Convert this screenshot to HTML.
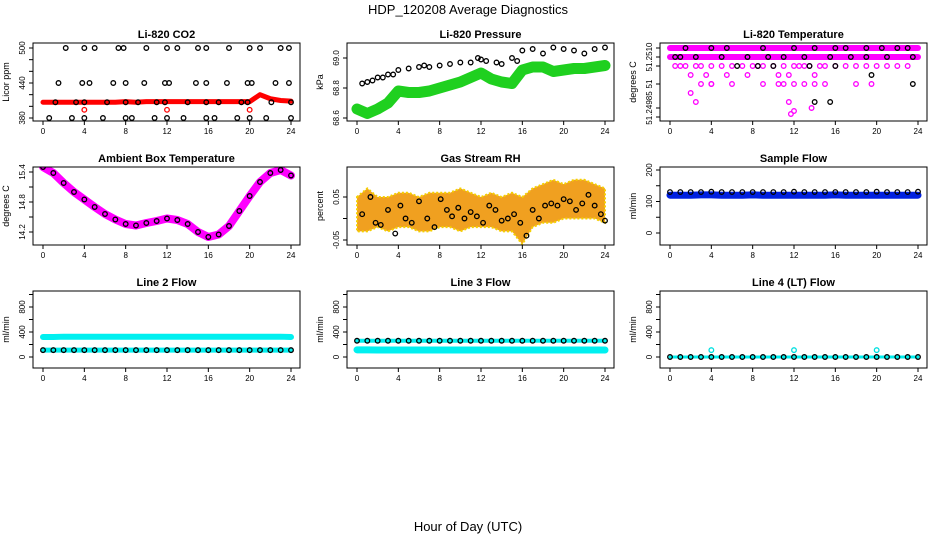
<!DOCTYPE html>
<html><head><meta charset="utf-8"><style>
body{margin:0;background:#fff}
svg{display:block;font-family:"Liberation Sans",sans-serif}
</style></head><body>
<svg id="c" width="936" height="540" viewBox="0 0 936 540">
<rect width="936" height="540" fill="#fff"/>
<text x="468" y="14" font-size="13" text-anchor="middle">HDP_120208  Average Diagnostics</text>
<text x="468" y="531" font-size="13" text-anchor="middle">Hour of Day (UTC)</text>
</svg>
<script>
// ---- data ----
const hours = [0,1,2,3,4,5,6,7,8,9,10,11,12,13,14,15,16,17,18,19,20,21,22,23,24];
const xTicks = [0,4,8,12,16,20,24];
// CO2
const co2Band = [407,407,407,407,407,407,407,407,408,407,408,408,408,408,408,408,408,408,408,408,408,420,413,410,409];
const co2Hi500 = [2.2,4,5,7.3,7.8,10,12,13,15,15.8,18,20,21,23,23.8];
const co2Hi440 = [1.5,3.8,4.5,6.8,8,9.8,11.8,12.2,14.8,15.8,17.8,19.8,20.2,22.5,23.8];
const co2Mid410 = [1.2,3.2,4,6.2,8,9.2,11,11.8,14,15.8,17,19.2,19.8,22.1,24];
const co2Lo380 = [0.6,2.8,4,5.8,8,8.6,10.8,12,13.6,15.8,16.6,18.8,20,21.6,24];
const co2Red = [4,12,20];
// Pressure
const presGreen = [68.66,68.63,68.66,68.70,68.78,68.77,68.77,68.78,68.80,68.82,68.84,68.87,68.90,68.86,68.84,68.83,68.92,68.94,68.94,68.91,68.92,68.93,68.93,68.94,68.95];
const presBlackH = [0.5,1,1.5,2,2.5,3,3.5,4,5,6,6.5,7,8,9,10,11,11.7,12,12.5,13.5,14,15,15.5,16,17,18,19,20,21,22,23,24];
const presBlackV = [68.83,68.84,68.85,68.87,68.87,68.89,68.89,68.92,68.93,68.94,68.95,68.94,68.95,68.96,68.97,68.97,69.0,68.99,68.98,68.97,68.96,69.0,68.98,69.05,69.06,69.03,69.07,69.06,69.05,69.03,69.06,69.07];
// Li-820 temperature (discrete levels)
const tempRowA = 51.25103, tempRowB = 51.2510;
const tempMagH = [0.5,1,1.5,2,2.5,3,3.5,4,5,5.5,6,7,7.5,8,8.5,9,10,10.5,11,11.5,12,12.5,13,13.5,14,14.5,15,16,17,18,19,20,21,22,23,3,4,6,9,10.5,11,12,13,14,15,2,2.5,11.5,12,11.7,13.7,4,18,19.5];
const tempMagV = [51.25097,51.25097,51.25097,51.25094,51.25097,51.25097,51.25094,51.25097,51.25097,51.25094,51.25097,51.25097,51.25094,51.25097,51.25097,51.25097,51.25097,51.25094,51.25097,51.25094,51.25097,51.25097,51.25097,51.25097,51.25094,51.25097,51.25097,51.25097,51.25097,51.25097,51.25097,51.25097,51.25097,51.25097,51.25097,51.25091,51.25091,51.25091,51.25091,51.25091,51.25091,51.25091,51.25091,51.25091,51.25091,51.25088,51.25085,51.25085,51.25082,51.25081,51.25083,51.25091,51.25091,51.25091];
const tempBlkH = [1.5,4,5.5,9,12,14,16,17,19,20.5,22,23,0.5,1,2.5,5,7.5,9.5,11,13,15.5,17.5,19,21,23.5,6.5,8.5,10,13.5,16,19.5,23.5,14,15.5];
const tempBlkV = [51.25103,51.25103,51.25103,51.25103,51.25103,51.25103,51.25103,51.25103,51.25103,51.25103,51.25103,51.25103,51.2510,51.2510,51.2510,51.2510,51.2510,51.2510,51.2510,51.2510,51.2510,51.2510,51.2510,51.2510,51.2510,51.25097,51.25097,51.25097,51.25097,51.25097,51.25094,51.25091,51.25085,51.25085];
// Ambient box temperature
const ambient = [15.5,15.38,15.18,15.0,14.85,14.7,14.56,14.45,14.36,14.33,14.38,14.42,14.47,14.44,14.36,14.2,14.1,14.15,14.32,14.62,14.92,15.2,15.38,15.44,15.33];
// Gas stream RH
const rhLow = [-0.03,-0.03,-0.02,-0.03,-0.02,-0.02,-0.03,-0.03,-0.02,-0.02,-0.03,-0.02,-0.02,-0.02,-0.03,-0.03,-0.06,-0.02,-0.01,-0.01,0.0,0.0,0.0,0.0,-0.01];
const rhHigh = [0.05,0.07,0.05,0.05,0.06,0.06,0.05,0.06,0.06,0.06,0.07,0.06,0.05,0.06,0.05,0.06,0.05,0.07,0.08,0.09,0.08,0.09,0.09,0.08,0.07];
const rhBlkH = [0.5,1.3,1.8,2.3,3,3.7,4.2,4.7,5.3,6,6.8,7.5,8.1,8.7,9.2,9.8,10.4,11,11.6,12.2,12.8,13.4,14,14.6,15.2,15.8,16.4,17,17.6,18.2,18.8,19.4,20,20.6,21.2,21.8,22.4,23,23.6,24];
const rhBlkV = [0.01,0.05,-0.01,-0.015,0.02,-0.035,0.03,0.0,-0.01,0.04,0.0,-0.02,0.045,0.02,0.005,0.025,0.0,0.015,0.005,-0.01,0.03,0.02,-0.005,0.0,0.01,-0.01,-0.04,0.02,0.0,0.03,0.035,0.03,0.045,0.04,0.02,0.035,0.055,0.03,0.01,-0.005];
// Sample flow
const sampleBlue = [120,120,120,121,121,120,120,120,121,120,120,120,120,120,120,120,121,120,120,120,120,120,120,120,120];
const sampleBlk = [130,130,130,130,131,130,130,130,130,130,130,130,131,130,130,130,130,130,130,130,131,130,130,130,131];
// Line flows
const line2Cyan = [320,320,325,325,325,325,325,325,325,325,325,325,325,325,325,325,325,325,325,325,325,325,325,325,320];
const line2Blk = [110,110,110,110,110,110,110,110,110,110,110,110,110,110,110,110,110,110,110,110,110,110,110,110,110];
const line3Blk = [260,260,260,260,260,260,260,260,260,260,260,260,260,260,260,260,260,260,260,260,260,260,260,260,260];
const line3Cyan = [115,115,112,112,112,112,112,112,112,112,112,112,112,112,112,112,112,112,112,112,112,112,112,112,112];
const line4Blk = [0,0,0,0,0,0,0,0,0,0,0,0,0,0,0,0,0,0,0,0,0,0,0,0,0];
const line4CyanH = [4,12,20];
const line4CyanV = [110,110,110];

// ---- drawing ----
const svg = document.getElementById('c');
const NS = 'http://www.w3.org/2000/svg';
function mk(tag, attrs, parent){const e=document.createElementNS(NS,tag);for(const k in attrs)e.setAttribute(k,attrs[k]);(parent||svg).appendChild(e);return e;}
const cols=[{b0:33,b1:300,t0:43,t1:291},{b0:347,b1:614,t0:357,t1:605},{b0:660,b1:927,t0:670,t1:918}];
const rows=[{b0:43,b1:121},{b0:167,b1:245},{b0:291,b1:368}];

function panel(ci,ri,title,slug,ytitle,ymap,yticks,ylabels){
  const c=cols[ci],r=rows[ri];
  const g=mk('g',{});
  
  
  const X=h=>c.t0+(h/24)*(c.t1-c.t0);
  const Y=v=>ymap[1]+(v-ymap[0])*(ymap[3]-ymap[1])/(ymap[2]-ymap[0]);
  const t=mk('text',{x:(c.b0+c.b1)/2,y:r.b0-5,'font-size':11,'font-weight':'bold','text-anchor':'middle'},g);
  t.textContent=title;
  
  
  const yt=mk('text',{transform:`translate(${c.b0-24},${(r.b0+r.b1)/2}) rotate(-90)`,'font-size':9,'text-anchor':'middle'},g);
  yt.textContent=ytitle;
  
  
  xTicks.forEach(h=>{
    mk('line',{x1:X(h),x2:X(h),y1:r.b1,y2:r.b1+4,stroke:'#000','stroke-width':1},g);
    const l=mk('text',{x:X(h),y:r.b1+13,'font-size':8,'text-anchor':'middle'},g);
    l.textContent=h;
    
    
  });
  yticks.forEach((v,i)=>{
    mk('line',{x1:c.b0-4,x2:c.b0,y1:Y(v),y2:Y(v),stroke:'#000','stroke-width':1},g);
    if(ylabels[i]!==''){
      const l=mk('text',{transform:`translate(${c.b0-8},${Y(v)}) rotate(-90)`,'font-size':8,'text-anchor':'middle'},g);
      l.textContent=ylabels[i];
      
      
    }
  });
  const clipId='clip'+ci+ri;
  const cp=mk('clipPath',{id:clipId},g);
  mk('rect',{x:c.b0,y:r.b0,width:c.b1-c.b0,height:r.b1-r.b0},cp);
  const plot=mk('g',{'clip-path':`url(#${clipId})`},g);
  const box=mk('rect',{x:c.b0,y:r.b0,width:c.b1-c.b0,height:r.b1-r.b0,fill:'none',stroke:'#000','stroke-width':1},g);
  
  
  return {X,Y,plot};
}
function band(p,hs,vs,color,w,name){
  const pts=hs.map((h,i)=>p.X(h)+','+p.Y(vs[i])).join(' ');
  const e=mk('polyline',{points:pts,fill:'none',stroke:color,'stroke-width':w,'stroke-linejoin':'round','stroke-linecap':'round'},p.plot);
  
  
}
function pts(p,hs,vs,color,name,r){
  hs.forEach((h,i)=>{
    const e=mk('circle',{cx:p.X(h),cy:p.Y(vs[i]),r:r||2.3,fill:'none',stroke:color,'stroke-width':1.3},p.plot);
    
    
  });
}
const rep=(a,v)=>a.map(()=>v);

// CO2
let p=panel(0,0,'Li-820 CO2','co2','Licor ppm',[380,118,500,48],[380,400,420,440,460,480,500],['380','','','440','','','500']);
band(p,hours,co2Band,'#f00',5,'co2-band');
pts(p,co2Hi500,rep(co2Hi500,500),'#000','co2-point');
pts(p,co2Hi440,rep(co2Hi440,440),'#000','co2-point');
pts(p,co2Mid410,rep(co2Mid410,407),'#000','co2-point');
pts(p,co2Lo380,rep(co2Lo380,380),'#000','co2-point');
pts(p,co2Red,rep(co2Red,394),'#f00','co2-red-point');
// Pressure
p=panel(1,0,'Li-820 Pressure','pressure','kPa',[68.6,118,69.0,58],[68.6,68.8,69.0],['68.6','68.8','69.0']);
band(p,hours,presGreen,'#1fd01f',11,'pressure-band');
pts(p,presBlackH,presBlackV,'#000','pressure-point');
// Li-820 temperature
p=panel(2,0,'Li-820 Temperature','li820-temp','degrees C',[51.2510,57,51.2500,357],[51.25103,51.2510,51.25097,51.25091,51.25083,51.2508],['','51.2510','','51','51.24985','']);
band(p,[0,24],[tempRowA,tempRowA],'#f0f',6,'temp-row');
band(p,[0,24],[tempRowB,tempRowB],'#f0f',6,'temp-row');
pts(p,tempMagH,tempMagV,'#f0f','temp-point');
pts(p,tempBlkH,tempBlkV,'#000','temp-black-point');
// Ambient
p=panel(0,1,'Ambient Box Temperature','ambient','degrees C',[14.2,232,15.4,172],[14.2,14.5,14.8,15.1,15.4],['14.2','','14.8','','15.4']);
band(p,hours,ambient,'#f0f',8,'ambient-band');
pts(p,hours,ambient,'#000','ambient-point');
// RH
p=panel(1,1,'Gas Stream RH','rh','percent',[-0.05,240,0.05,197],[-0.05,0,0.05],['-0.05','','0.05']);
{
  const up=hours.map((h,i)=>p.X(h)+','+p.Y(rhHigh[i]));
  const dn=hours.map((h,i)=>p.X(h)+','+p.Y(rhLow[i])).reverse();
  const e=mk('polygon',{points:up.concat(dn).join(' '),fill:'#f0a020',stroke:'#f5d000','stroke-width':2,'stroke-dasharray':'2 2'},p.plot);
  
  
}
pts(p,rhBlkH,rhBlkV,'#000','rh-point');
// Sample flow
p=panel(2,1,'Sample Flow','sample-flow','ml/min',[0,233,200,170],[0,50,100,150,200],['0','','100','','200']);
band(p,hours,sampleBlue,'#0020e0',7,'sample-band');
pts(p,hours,sampleBlk,'#000','sample-point');
const fy=[0,357,800,307], ft=[0,200,400,600,800,1000], fl=['0','','400','','800',''];
// Line 2
p=panel(0,2,'Line 2 Flow','line2','ml/min',fy,ft,fl);
band(p,hours,line2Cyan,'#00f0f0',6,'line2-band');
band(p,hours,line2Blk,'#00f0f0',5,'line2-lower-band');
pts(p,hours,line2Blk,'#000','line2-point');
// Line 3
p=panel(1,2,'Line 3 Flow','line3','ml/min',fy,ft,fl);
band(p,hours,line3Cyan,'#00f0f0',7,'line3-band');
band(p,hours,line3Blk,'#00f0f0',4,'line3-upper-band');
pts(p,hours,line3Blk,'#000','line3-point');
// Line 4
p=panel(2,2,'Line 4 (LT) Flow','line4','ml/min',fy,ft,fl);
band(p,hours,line4Blk,'#00f0f0',3,'line4-band');
pts(p,hours,line4Blk,'#000','line4-point');
pts(p,line4CyanH,line4CyanV,'#00e0e0','line4-cyan-point');
</script>
</body></html>
